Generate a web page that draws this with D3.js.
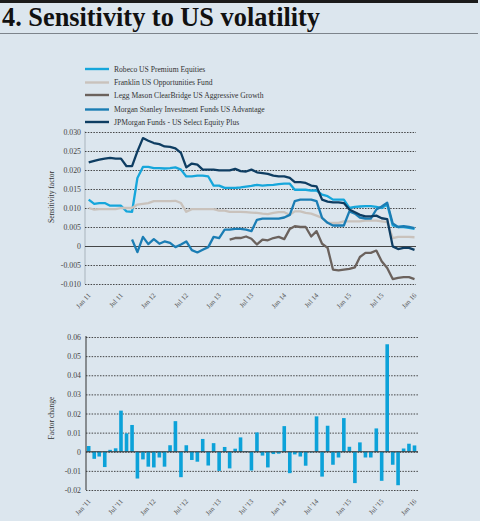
<!DOCTYPE html>
<html>
<head>
<meta charset="utf-8">
<script src="https://cdn.jsdelivr.net/npm/d3@7"></script>
<style>
  html, body { margin: 0; padding: 0; background: #dce6ee; }
  svg { display: block; }
  text { font-family: "Liberation Serif", "DejaVu Serif", serif; fill: #333; }
</style>
</head>
<body>
<div class="chart"></div>
<script>
var w = 480,
    h = 521;

// months Jan 2011 .. Jan 2016 (61 points)
var months = d3.timeMonths(new Date(2011, 0, 1), new Date(2016, 0, 2));

var seriesNames = ["Robeco US Premium Equities", "Franklin US Opportunities Fund",
  "Legg Mason ClearBridge US Aggressive Growth", "Morgan Stanley Investment Funds US Advantage",
  "JPMorgan Funds - US Select Equity Plus"];
var color = ["#16a6db", "#c9c2bc", "#6b625d", "#1b7db4", "#0e3d62"];

var robeco = [0.0122, 0.0111, 0.0113, 0.0113, 0.0106, 0.0106, 0.0106, 0.0091, 0.0090, 0.0179,
  0.0208, 0.0208, 0.0205, 0.0205, 0.0204, 0.0205, 0.0207, 0.0201, 0.0183, 0.0183,
  0.0185, 0.0185, 0.0183, 0.0159, 0.0159, 0.0153, 0.0153, 0.0153, 0.0154, 0.0156,
  0.0158, 0.0161, 0.0159, 0.0160, 0.0161, 0.0163, 0.0164, 0.0164, 0.0148, 0.0148,
  0.0148, 0.0146, 0.0146, 0.0135, 0.0131, 0.0122, 0.0122, 0.0122, 0.0100, 0.0103,
  0.0104, 0.0105, 0.0105, 0.0103, 0.0100, 0.0109, 0.0054, 0.0050, 0.0050, 0.0048, 0.0045];
var franklin = [0.0100, 0.0096, 0.0097, 0.0097, 0.0097, 0.0097, 0.0100, 0.0100, 0.0100, 0.0109,
  0.0111, 0.0113, 0.0118, 0.0118, 0.0118, 0.0118, 0.0119, 0.0113, 0.0090, 0.0097,
  0.0097, 0.0097, 0.0097, 0.0097, 0.0093, 0.0093, 0.0090, 0.0090, 0.0090, 0.0089,
  0.0088, 0.0087, 0.0085, 0.0084, 0.0087, 0.0089, 0.0089, 0.0082, 0.0091, 0.0091,
  0.0087, 0.0085, 0.0080, 0.0074, 0.0061, 0.0061, 0.0061, 0.0065, 0.0065, 0.0065,
  0.0065, 0.0067, 0.0067, 0.0067, 0.0065, 0.0063, 0.0021, 0.0024, 0.0024, 0.0024, 0.0023];
var leggMason = [null, null, null, null, null, null, null, null, null, null,
  null, null, null, null, null, null, null, null, null, null,
  null, null, null, null, null, null, 0.0017, 0.0021, 0.0021, 0.0025,
  0.0019, 0.0004, 0.0017, 0.0015, 0.0021, 0.0024, 0.0018, 0.0045, 0.0052, 0.0050,
  0.0050, 0.0025, 0.0039, 0.0006, -0.0005, -0.0062, -0.0064, -0.0062, -0.0060, -0.0056,
  -0.0029, -0.0018, -0.0018, -0.0012, -0.0040, -0.0058, -0.0087, -0.0084, -0.0082, -0.0082, -0.0087];
var morganStanley = [null, null, null, null, null, null, null, null, 0.0017, -0.0016,
  0.0024, 0.0005, 0.0018, 0.0006, 0.0012, 0.0008, -0.0003, 0.0004, 0.0012, -0.0011,
  -0.0017, -0.0010, -0.0003, 0.0024, 0.0021, 0.0043, 0.0043, 0.0045, 0.0045, 0.0043,
  0.0039, 0.0069, 0.0072, 0.0072, 0.0072, 0.0072, 0.0075, 0.0082, 0.0118, 0.0122,
  0.0122, 0.0122, 0.0118, 0.0074, 0.0061, 0.0054, 0.0054, 0.0054, 0.0091, 0.0085,
  0.0075, 0.0072, 0.0072, 0.0096, 0.0104, 0.0114, 0.0059, 0.0050, 0.0052, 0.0050, 0.0047];
var jpMorgan = [0.0220, 0.0224, 0.0227, 0.0230, 0.0232, 0.0230, 0.0230, 0.0210, 0.0210, 0.0249,
  0.0284, 0.0277, 0.0271, 0.0268, 0.0262, 0.0261, 0.0257, 0.0245, 0.0207, 0.0217,
  0.0214, 0.0201, 0.0201, 0.0201, 0.0199, 0.0199, 0.0199, 0.0203, 0.0197, 0.0196,
  0.0201, 0.0194, 0.0192, 0.0190, 0.0185, 0.0183, 0.0183, 0.0179, 0.0168, 0.0168,
  0.0166, 0.0159, 0.0157, 0.0122, 0.0117, 0.0115, 0.0115, 0.0113, 0.0096, 0.0089,
  0.0082, 0.0078, 0.0078, 0.0080, 0.0073, 0.0071, -0.0001, -0.0008, -0.0005, -0.0005, -0.0010];

var factorChange = [0.0030, -0.0037, -0.0025, -0.0080, 0.0010, 0.0018, 0.0215, 0.0096, 0.0140, -0.0140,
  -0.0040, -0.0078, -0.0082, -0.0030, -0.0078, 0.0034, 0.0160, -0.0133, 0.0034, -0.0043,
  -0.0052, 0.0067, -0.0072, 0.0045, -0.0100, 0.0025, -0.0087, 0.0016, 0.0075, 0.0003,
  -0.0098, 0.0101, -0.0020, -0.0082, -0.0012, -0.0010, 0.0134, -0.0112, -0.0014, -0.0025,
  -0.0073, -0.0003, 0.0185, -0.0130, 0.0136, -0.0068, -0.0030, 0.0176, 0.0026, -0.0164,
  0.0049, -0.0030, -0.0030, 0.0122, -0.0152, 0.0562, -0.0068, -0.0175, 0.0017, 0.0042, 0.0033];

var topTicks = [-0.010, -0.005, 0, 0.005, 0.010, 0.015, 0.020, 0.025, 0.030];
var topTickLabels = ["-0.010", "-0.005", "0", "0.005", "0.010", "0.015", "0.020", "0.025", "0.030"];
var bottomTicks = [-0.02, -0.01, 0, 0.01, 0.02, 0.03, 0.04, 0.05, 0.06];
var bottomTickLabels = ["-0.02", "-0.01", "0", "0.01", "0.02", "0.03", "0.04", "0.05", "0.06"];
var xTickDates = d3.timeMonths(new Date(2011, 0, 1), new Date(2016, 0, 2), 6);
var topXLabels = ["Jan 11", "Jul 11", "Jan 12", "Jul 12", "Jan 13", "Jul 13", "Jan 14", "Jul 14", "Jan 15", "Jul 15", "Jan 16"];
var bottomXLabels = ["Jan '11", "Jul '11", "Jan '12", "Jul '12", "Jan '13", "Jul '13", "Jan '14", "Jul '14", "Jan '15", "Jul '15", "Jan '16"];

var allSeries = [robeco, franklin, leggMason, morganStanley, jpMorgan];

var svg = d3.select(".chart").append("svg")
  .attr("width", w)
  .attr("height", h);

svg.append("rect").attr("width", w).attr("height", h).attr("fill", "#dce6ee");

// title block
svg.append("rect").attr("x", 0).attr("y", 0).attr("width", 478).attr("height", 3).attr("fill", "#1b1b1b");
svg.append("text")
  .attr("x", 2).attr("y", 26)
  .attr("textLength", 318).attr("lengthAdjust", "spacingAndGlyphs")
  .style("font-size", "27px").style("font-weight", "bold").style("fill", "#111")
  .text("4. Sensitivity to US volatility");
svg.append("line").attr("x1", 0).attr("x2", 478).attr("y1", 33.5).attr("y2", 33.5)
  .attr("stroke", "#7d848b").attr("stroke-width", 1);

// legend
var legend = svg.selectAll(".legend")
  .data(seriesNames)
  .enter().append("g")
  .attr("transform", function(d, i) {
    return "translate(85," + [69, 82.5, 95, 109.5, 122][i] + ")";
  });
legend.append("line").attr("x1", 0).attr("x2", 24)
  .attr("stroke", function(d, i) { return color[i]; })
  .attr("stroke-width", 2.4);
legend.append("text").attr("x", 29).attr("y", 2.6)
  .style("font-size", "7.6px")
  .text(function(d) { return d; });

var x = d3.scaleTime()
  .domain([new Date(2011, 0, 1), new Date(2016, 0, 1)])
  .range([88.7, 414.5]);

// ---- top chart
var yTop = d3.scaleLinear().domain([-0.01, 0.03]).range([284, 132]);

svg.append("line").attr("x1", 85).attr("x2", 85).attr("y1", 131).attr("y2", 284)
  .attr("stroke", "#a9b4bd").attr("stroke-width", 1);

var gTop = svg.append("g").attr("transform", "translate(85,0)")
  .call(d3.axisLeft(yTop).tickValues(topTicks).tickSize(-331).tickPadding(4)
    .tickFormat(function(d, i) { return topTickLabels[i]; }));
gTop.select(".domain").remove();
gTop.selectAll("text").style("font-size", "7.8px").style("fill", "#444").style("font-family", "Liberation Serif");
gTop.selectAll("line")
  .attr("stroke", "#333")
  .attr("stroke-width", 0.9)
  .attr("stroke-dasharray", function(d) { return d === 0 ? null : "1.5,1.3"; });

var line = d3.line()
  .defined(function(d) { return d != null; })
  .x(function(d, i) { return x(months[i]); })
  .y(function(d) { return yTop(d); });

svg.selectAll(".series")
  .data(allSeries)
  .enter().append("path")
  .attr("d", line)
  .attr("fill", "none")
  .attr("stroke", function(d, i) { return color[i]; })
  .attr("stroke-width", 2.3)
  .attr("stroke-linejoin", "round");

var xTop = svg.append("g").attr("transform", "translate(0,284)")
  .call(d3.axisBottom(x).tickValues(xTickDates).tickSize(0)
    .tickFormat(function(d, i) { return topXLabels[i]; }));
xTop.select(".domain").remove();
xTop.selectAll("text")
  .attr("y", 0).attr("dy", "0.35em")
  .attr("text-anchor", "end")
  .attr("transform", "translate(0,10) rotate(-48)")
  .style("font-size", "7px").style("fill", "#555").style("font-family", "Liberation Serif");

svg.append("text")
  .attr("transform", "translate(54,197) rotate(-90)")
  .attr("text-anchor", "middle")
  .style("font-size", "7.6px")
  .text("Sensitivity factor");

// ---- bottom chart
var yBot = d3.scaleLinear().domain([-0.02, 0.06]).range([490, 337]);

var gBot = svg.append("g").attr("transform", "translate(86,0)")
  .call(d3.axisLeft(yBot).tickValues(bottomTicks).tickSize(-332).tickPadding(5)
    .tickFormat(function(d, i) { return bottomTickLabels[i]; }));
gBot.select(".domain").remove();
gBot.selectAll("text").style("font-size", "7.8px").style("fill", "#444").style("font-family", "Liberation Serif");
gBot.selectAll("line")
  .attr("stroke", "#333")
  .attr("stroke-width", 0.9)
  .attr("stroke-dasharray", "1.5,1.3");

svg.selectAll(".bar")
  .data(factorChange)
  .enter().append("rect")
  .attr("x", function(d, i) { return x(months[i]) - 1.8; })
  .attr("width", 3.6)
  .attr("y", function(d) { return yBot(Math.max(0, d)); })
  .attr("height", function(d) { return Math.abs(yBot(d) - yBot(0)); })
  .attr("fill", "#0ca2d9");

svg.append("line").attr("x1", 86).attr("x2", 418).attr("y1", yBot(0)).attr("y2", yBot(0))
  .attr("stroke", "#333").attr("stroke-width", 1);
svg.append("line").attr("x1", 86).attr("x2", 86).attr("y1", 336).attr("y2", 490)
  .attr("stroke", "#333").attr("stroke-width", 1);

var xBot = svg.append("g").attr("transform", "translate(0,490)")
  .call(d3.axisBottom(x).tickValues(xTickDates).tickSize(0)
    .tickFormat(function(d, i) { return bottomXLabels[i]; }));
xBot.select(".domain").remove();
xBot.selectAll("text")
  .attr("y", 0).attr("dy", "0.35em")
  .attr("text-anchor", "end")
  .attr("transform", "translate(0,10) rotate(-48)")
  .style("font-size", "7px").style("fill", "#555").style("font-family", "Liberation Serif");

svg.append("text")
  .attr("transform", "translate(54,418) rotate(-90)")
  .attr("text-anchor", "middle")
  .style("font-size", "7.6px")
  .text("Factor change");
</script>
</body>
</html>
